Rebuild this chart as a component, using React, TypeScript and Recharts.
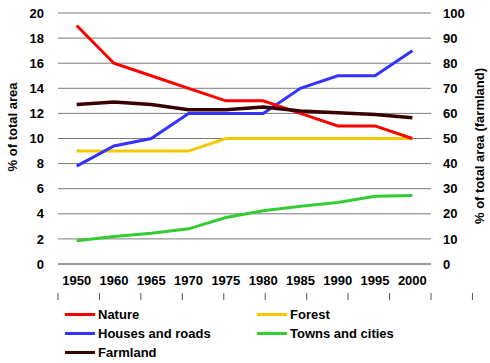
import { CartesianGrid, Line, LineChart, XAxis, YAxis } from 'recharts'

const years = ['1950', '1960', '1965', '1970', '1975', '1980', '1985', '1990', '1995', '2000']
const nature = [19, 16, 15, 14, 13, 13, 12, 11, 11, 10]
const forest = [9, 9, 9, 9, 10, 10, 10, 10, 10, 10]
const houses = [7.8, 9.4, 10, 12, 12, 12, 14, 15, 15, 17]
const towns = [1.86, 2.2, 2.45, 2.8, 3.7, 4.25, 4.6, 4.9, 5.4, 5.45]
// farmland is read against the right-hand axis (0-100)
const farmland = [63.5, 64.5, 63.5, 61.5, 61.5, 62.5, 61, 60.3, 59.6, 58.3]

const leftTicks = [0, 2, 4, 6, 8, 10, 12, 14, 16, 18, 20]
const rightTicks = [0, 10, 20, 30, 40, 50, 60, 70, 80, 90, 100]
// band edges for the little x tick marks
const edgeTicks = [...years.map((_, i) => i), years.length]

const data = years.map((year, i) => ({
  year,
  nature: nature[i],
  forest: forest[i],
  houses: houses[i],
  towns: towns[i],
  farmland: farmland[i],
}))

const RED = '#ff0000'
const YELLOW = '#f5c800'
const BLUE = '#3333ff'
const GREEN = '#33cc33'
const MAROON = '#3a0000'
const GRID = '#7a7a7a'
const FONT = '"Liberation Sans", Arial, sans-serif'

const WIDTH = 490
const LEFT_W = 58
const RIGHT_W = 59
const HALF_BAND = (WIDTH - LEFT_W - RIGHT_W) / years.length / 2

const tickStyle = { fill: '#000', fontSize: 13, fontWeight: 700, fontFamily: FONT }

const legendItems = [
  { name: 'Nature', color: RED, col: 0, row: 0 },
  { name: 'Forest', color: YELLOW, col: 1, row: 0 },
  { name: 'Houses and roads', color: BLUE, col: 0, row: 1 },
  { name: 'Towns and cities', color: GREEN, col: 1, row: 1 },
  { name: 'Farmland', color: MAROON, col: 0, row: 2 },
]

export default function App() {
  return (
    <div style={{ position: 'absolute', left: 0, top: 0, width: 490, height: 363, background: '#fff', fontFamily: FONT }}>
      <LineChart width={WIDTH} height={300} data={data} margin={{ top: 13, right: 0, bottom: 6, left: 0 }}>
        <CartesianGrid horizontal vertical={false} stroke={GRID} yAxisId="left" />
        {/* tick marks only, on the band edges */}
        <XAxis
          xAxisId="edges"
          type="number"
          domain={[0, years.length]}
          ticks={edgeTicks}
          interval={0}
          height={1}
          axisLine={false}
          tickLine={{ stroke: '#555' }}
          tickSize={8}
          tick={() => <g />}
          allowDataOverflow
        />
        <XAxis
          dataKey="year"
          height={29}
          padding={{ left: HALF_BAND, right: HALF_BAND }}
          axisLine={{ stroke: GRID }}
          tickLine={false}
          tickSize={0}
          tickMargin={12}
          interval={0}
          tick={tickStyle}
        />
        <YAxis
          yAxisId="left"
          width={LEFT_W}
          domain={[0, 20]}
          ticks={leftTicks}
          axisLine={false}
          tickLine={false}
          tickMargin={8}
          tick={tickStyle}
          interval={0}
        />
        <YAxis
          yAxisId="right"
          orientation="right"
          width={RIGHT_W}
          domain={[0, 100]}
          ticks={rightTicks}
          axisLine={false}
          tickLine={false}
          tickMargin={6}
          tick={tickStyle}
          interval={0}
        />
        <Line yAxisId="left" type="linear" dataKey="forest" stroke={YELLOW} strokeWidth={3} dot={false} isAnimationActive={false} />
        <Line yAxisId="left" type="linear" dataKey="towns" stroke={GREEN} strokeWidth={3} dot={false} isAnimationActive={false} />
        <Line yAxisId="left" type="linear" dataKey="houses" stroke={BLUE} strokeWidth={3} dot={false} isAnimationActive={false} />
        <Line yAxisId="left" type="linear" dataKey="nature" stroke={RED} strokeWidth={3} dot={false} isAnimationActive={false} />
        <Line yAxisId="right" type="linear" dataKey="farmland" stroke={MAROON} strokeWidth={3.5} dot={false} isAnimationActive={false} />
      </LineChart>

      <svg width={490} height={300} style={{ position: 'absolute', left: 0, top: 0, pointerEvents: 'none' }}>
        <text transform="translate(12,127) rotate(-90)" textAnchor="middle" dominantBaseline="central" {...tickStyle}>
          % of total area
        </text>
        <text transform="translate(479,146) rotate(-90)" textAnchor="middle" dominantBaseline="central" {...tickStyle}>
          % of total area (farmland)
        </text>
      </svg>

      {legendItems.map((item) => (
        <div
          key={item.name}
          style={{
            position: 'absolute',
            left: item.col === 0 ? 65 : 257,
            top: 305 + item.row * 19,
            height: 18,
            display: 'flex',
            alignItems: 'center',
            fontSize: 13,
            fontWeight: 700,
            color: '#000',
            whiteSpace: 'nowrap',
          }}
        >
          <span style={{ display: 'inline-block', width: 30, height: 3, background: item.color, marginRight: 3 }} />
          {item.name}
        </div>
      ))}
    </div>
  )
}
